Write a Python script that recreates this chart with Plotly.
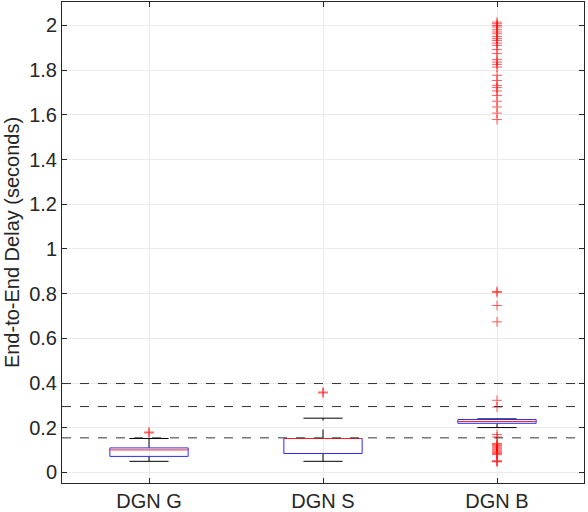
import plotly.graph_objects as go

CATEGORIES = ["DGN G", "DGN S", "DGN B"]

# box statistics (seconds)
Q1 = [0.072, 0.085, 0.220]
MEDIAN = [0.101, 0.152, 0.228]
Q3 = [0.110, 0.152, 0.237]
WHISKER_LOW = [0.050, 0.050, 0.201]
WHISKER_HIGH = [0.152, 0.243, 0.240]

OUTLIERS_G = [0.177, 0.181]
OUTLIERS_S = [0.356, 0.360]
OUTLIERS_B = [
    2.015, 2.008, 2.000, 1.993, 1.981, 1.971, 1.963, 1.951, 1.941, 1.933,
    1.921, 1.911, 1.892, 1.874, 1.847, 1.836, 1.826, 1.814, 1.777, 1.754,
    1.732, 1.722, 1.707, 1.687, 1.661, 1.635, 1.608, 1.579,
    0.810, 0.805, 0.747, 0.674, 0.323, 0.293,
    0.170, 0.159, 0.130, 0.125, 0.120, 0.115, 0.110, 0.105, 0.100, 0.095,
    0.090, 0.085, 0.080, 0.052, 0.050, 0.048,
]
OUTLIERS = [OUTLIERS_G, OUTLIERS_S, OUTLIERS_B]

THRESHOLDS = [0.155, 0.295, 0.398]

Y_TICKS = [0, 0.2, 0.4, 0.6, 0.8, 1, 1.2, 1.4, 1.6, 1.8, 2]
Y_TICK_TEXT = ["0", "0.2", "0.4", "0.6", "0.8", "1", "1.2", "1.4", "1.6", "1.8", "2"]

BOX_WIDTH = 0.45
FONT = "Liberation Sans, Arial, sans-serif"
TEXT_COLOR = "#262626"

fig = go.Figure()

for i, name in enumerate(CATEGORIES):
    x0 = i + 1
    half = BOX_WIDTH / 2
    cap = BOX_WIDTH / 4

    # whiskers (dashed black)
    for lo, hi in [(Q3[i], WHISKER_HIGH[i]), (WHISKER_LOW[i], Q1[i])]:
        fig.add_trace(
            go.Scatter(
                x=[x0, x0], y=[lo, hi], mode="lines",
                line=dict(color="black", width=1, dash="dash"),
                hoverinfo="skip",
            )
        )
    # whisker caps
    for v in [WHISKER_HIGH[i], WHISKER_LOW[i]]:
        fig.add_trace(
            go.Scatter(
                x=[x0 - cap, x0 + cap], y=[v, v], mode="lines",
                line=dict(color="black", width=1),
                hoverinfo="skip",
            )
        )
    # box
    fig.add_trace(
        go.Scatter(
            x=[x0 - half, x0 + half, x0 + half, x0 - half, x0 - half],
            y=[Q1[i], Q1[i], Q3[i], Q3[i], Q1[i]],
            mode="lines",
            line=dict(color="#2B2BFF", width=1),
            hoverinfo="skip",
        )
    )
    # median
    fig.add_trace(
        go.Scatter(
            x=[x0 - half, x0 + half], y=[MEDIAN[i], MEDIAN[i]], mode="lines",
            line=dict(color="#FF2020", width=1),
            hoverinfo="skip",
        )
    )
    # outliers
    fig.add_trace(
        go.Scatter(
            x=[x0] * len(OUTLIERS[i]), y=OUTLIERS[i], mode="markers",
            marker=dict(symbol="cross-thin", size=7, opacity=0.65,
                        line=dict(color="#FF0000", width=1)),
            name=name,
        )
    )

for t in THRESHOLDS:
    fig.add_hline(y=t, line=dict(color="#333333", width=1, dash="dash"))

axis_common = dict(
    showline=True, linecolor=TEXT_COLOR, linewidth=1, mirror="ticks",
    ticks="inside", ticklen=5, tickcolor=TEXT_COLOR,
    showgrid=True, gridcolor="#EBEBEB", gridwidth=1,
    zeroline=False, automargin=False,
    tickfont=dict(family=FONT, size=20, color=TEXT_COLOR),
)

fig.update_xaxes(
    range=[0.5, 3.5], tickvals=[1, 2, 3], ticktext=CATEGORIES, **axis_common
)
fig.update_yaxes(
    range=[-0.047, 2.105], tickvals=Y_TICKS, ticktext=Y_TICK_TEXT,
    title=dict(text="End-to-End Delay (seconds)",
               font=dict(family=FONT, size=20, color=TEXT_COLOR), standoff=4),
    **axis_common
)

fig.update_layout(
    width=588, height=512,
    margin=dict(l=62, r=4, t=2, b=29),
    plot_bgcolor="white", paper_bgcolor="white",
    showlegend=False,
)

fig.write_html(
    "out.html",
    config={"displayModeBar": False},
    post_script="document.body.style.margin='0';",
)
